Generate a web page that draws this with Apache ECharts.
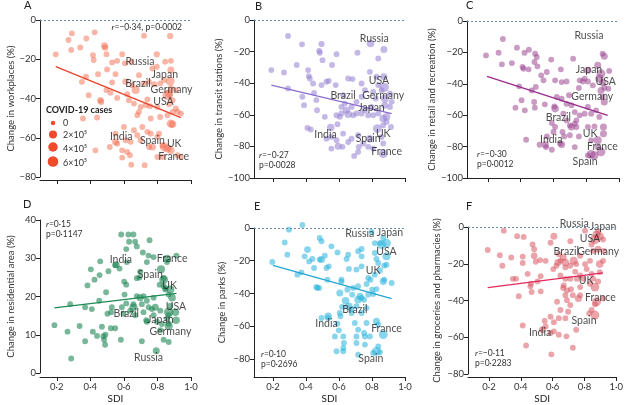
<!DOCTYPE html>
<html><head><meta charset="utf-8">
<script src="https://cdn.jsdelivr.net/npm/echarts@6/dist/echarts.min.js"></script>
<style>html,body{margin:0;padding:0;background:#fff}#c{width:626px;height:405px}</style>
</head><body><div id="c"></div>
<script>
const sdiTicks = [0.2, 0.4, 0.6, 0.8, 1.0];
const legendCases = [0, 2, 4, 6]; // ×10^5
const legendLabels = ['0', '2×10⁵', '4×10⁵', '6×10⁵'];

// [SDI, change %, COVID-19 cases ×10^5 (optional)]
const workplaces = [
[0.194,-17.5],[0.27,-10.2],[0.29,-6.8],[0.286,-15.3],[0.34,-14],[0.376,-9.4],[0.426,-6.3],[0.416,-17.9],[0.42,-20.4],[0.484,-13.1,0.8],[0.488,-14.1,0.5],[0.496,-17.4],[0.53,-21.6],[0.56,-20.8],[0.59,-17.4],[0.606,-22.1],[0.644,-21.3],[0.72,-8],[0.876,-8.2,0.5],[0.796,-17.5,0.5],[0.846,-21.3],[0.88,-20.8],[0.796,-23.8],[0.77,-24.7],[0.88,-25.5,1],[0.374,-28.9],[0.446,-27.6],[0.5,-25.2],[0.55,-27.6],[0.35,-31.5],[0.53,-31.8],[0.61,-31.5,0.6],[0.65,-33.2],[0.67,-35.7,2],[0.69,-28.1],[0.72,-32.3],[0.75,-31.5],[0.78,-32.7],[0.816,-32.3],[0.84,-30.6],[0.876,-31.1,3],[0.88,-34.6],[0.91,-35.7],[0.496,-35.7],[0.52,-37.1],[0.39,-38.3],[0.46,-40.9,0.6],[0.464,-41.7,0.6],[0.56,-39.7],[0.62,-37.8],[0.63,-40.9],[0.66,-42.6],[0.70,-44.3],[0.74,-40.5],[0.73,-43.4],[0.756,-43.9],[0.80,-44.3],[0.86,-38.3,5],[0.87,-37.4,2],[0.89,-40.9],[0.87,-42.9],[0.91,-45.1],[0.92,-46.8],[0.89,-46.8],[0.94,-47.7],[0.356,-50.2],[0.44,-49.7],[0.69,-46.8],[0.68,-48.5],[0.76,-50.2],[0.816,-49.4],[0.86,-48.5],[0.88,-52.8,2.5],[0.89,-53.1,1.5],[0.60,-54.5],[0.66,-56.2],[0.71,-54.5],[0.74,-57],[0.76,-57.9],[0.68,-58.7],[0.81,-57.9],[0.55,-57.9],[0.55,-62.1,1],[0.56,-63],[0.61,-61.3],[0.64,-62.1],[0.70,-61.3],[0.75,-64.7],[0.77,-64.7,1],[0.80,-59.6],[0.83,-63.8],[0.84,-64.7,3],[0.86,-65.5,2],[0.88,-66.4,1.5],[0.43,-66.4],[0.516,-64.7],[0.59,-66.4],[0.62,-67.2],[0.636,-68.9],[0.59,-70.1],[0.644,-73.7],[0.724,-74],[0.80,-69.8],[0.83,-69.8],[0.92,-68.9],[0.94,-69.8]
];
const transit = [
[0.291,-10.1],[0.376,-15.4],[0.494,-15.2,0.5],[0.484,-20.7],[0.48,-19.5],[0.50,-25.4],[0.585,-21.6],[0.712,-20.7],[0.791,-14.8,1.5],[0.872,-18.6,1],[0.838,-24.3],[0.19,-31.7],[0.267,-33.2],[0.344,-28.5],[0.413,-31.7],[0.417,-35.5],[0.423,-37],[0.291,-43.3],[0.378,-48.6],[0.388,-53.9],[0.449,-46.1],[0.463,-50.7],[0.467,-57.1],[0.494,-41.2],[0.524,-39.1],[0.538,-38.5],[0.558,-28.5],[0.514,-61.3],[0.58,-41.2],[0.625,-47.6],[0.656,-37],[0.682,-37.4],[0.635,-52.9],[0.615,-55],[0.645,-57.1,1],[0.676,-55],[0.706,-51.8],[0.737,-48.6],[0.757,-44.4],[0.737,-40.2],[0.787,-32.8],[0.827,-35.9],[0.872,-35.9,1],[0.838,-41.2],[0.874,-42.7,4],[0.858,-44.4],[0.807,-45.5],[0.822,-49.7],[0.878,-49.7,2],[0.909,-46.5],[0.919,-51.8],[0.909,-55],[0.878,-53.9,1],[0.797,-55],[0.757,-57.1],[0.737,-59.2],[0.706,-59.2],[0.686,-60.3],[0.656,-59.6,1.5],[0.615,-59.2],[0.585,-60.3],[0.591,-66],[0.605,-61.3],[0.777,-60.3],[0.807,-60.3],[0.838,-59.2],[0.868,-62.4,1.5],[0.888,-61.3,1.5],[0.868,-66.6],[0.888,-64.5],[0.915,-67.7],[0.409,-68.3],[0.429,-69.3],[0.55,-68.1,1.5],[0.554,-74],[0.585,-76.1],[0.595,-79.9,1],[0.621,-80.3],[0.554,-81.4],[0.524,-75.1],[0.625,-71.9],[0.676,-75.1],[0.656,-77.2],[0.716,-72.9],[0.747,-78.2],[0.72,-80.3],[0.716,-83.5],[0.692,-86],[0.787,-75.1,1.5],[0.832,-68.7,3],[0.858,-74],[0.868,-78.2],[0.868,-84.6,3],[0.807,-81.4],[0.777,-80.3],[0.443,-40.2]
];
const retail = [
[0.188,-21.9],[0.265,-20.2],[0.291,-11.5],[0.285,-27.6],[0.346,-26.8],[0.377,-17],[0.423,-20.2],[0.45,-18.3],[0.488,-20.8],[0.498,-22.9],[0.484,-26.1],[0.502,-28.9],[0.417,-30.4],[0.448,-30.8],[0.411,-29.3],[0.525,-34.6],[0.559,-32.5],[0.586,-24.6],[0.539,-37.8],[0.492,-42],[0.467,-44.2],[0.39,-41.6],[0.405,-50.5],[0.368,-55.2],[0.425,-56.9],[0.482,-51.6],[0.486,-55.2],[0.547,-53.1],[0.61,-37.8],[0.645,-30.8],[0.65,-38.9],[0.68,-38.5],[0.72,-24],[0.76,-37.8],[0.78,-38.5],[0.79,-36.7],[0.81,-38.5],[0.84,-41],[0.81,-31.4,1],[0.87,-28.2,1],[0.89,-33.5,3],[0.88,-36.7,2],[0.90,-20.8],[0.91,-22.5,1],[0.94,-31.8],[0.90,-39.1,1],[0.91,-42.5],[0.935,-43.1],[0.89,-44.2,1],[0.90,-48.4],[0.91,-51.6,1],[0.755,-42.7],[0.695,-47.3],[0.65,-49.5],[0.62,-48.4],[0.605,-54.4],[0.61,-55.8,1.5],[0.68,-52.7],[0.71,-53.7],[0.73,-58],[0.76,-60.1],[0.79,-59],[0.81,-54.8],[0.83,-59],[0.86,-56.9],[0.88,-61.1],[0.66,-59],[0.68,-63.3],[0.70,-66.5],[0.71,-67.5,1],[0.73,-65.4],[0.74,-63.3],[0.59,-65],[0.61,-67.5],[0.60,-70.7],[0.56,-73.5],[0.655,-70.7],[0.665,-73.5],[0.70,-72.8],[0.74,-67.5],[0.81,-67.5],[0.85,-67.1],[0.905,-67.5,1],[0.905,-71.8,1],[0.433,-75.6],[0.515,-78.8],[0.55,-78.8,1],[0.555,-80.3],[0.59,-82],[0.64,-78.1],[0.65,-78.6,1],[0.73,-80.3],[0.755,-73.5],[0.83,-76],[0.87,-76,2],[0.87,-80.3],[0.89,-83.4,3],[0.83,-84.9,3],[0.85,-85.6,2],[0.81,-85.6]
];
const residential = [
[0.186,12.5],[0.28,18],[0.264,10.8],[0.286,3.8],[0.336,12.3],[0.369,8.3],[0.369,17.2],[0.383,22.9],[0.403,27.1],[0.409,16.7],[0.415,10.8],[0.44,9.7],[0.425,24.4],[0.455,25.6],[0.459,29.2],[0.469,12.1],[0.453,18.9],[0.494,21.1],[0.502,15.5],[0.49,10],[0.478,9.6],[0.488,7.4],[0.482,8.7],[0.528,17.2],[0.524,15.9],[0.522,11.7],[0.548,11.7],[0.508,26.6],[0.548,28.2],[0.554,28.3,1],[0.574,27.3],[0.584,36.2],[0.582,8.7],[0.614,32.4],[0.627,36.2],[0.631,34.3],[0.657,36.2],[0.667,34.3],[0.677,33.1],[0.618,29],[0.614,23.1],[0.602,23.9],[0.604,20.5],[0.588,17.2],[0.614,18.2],[0.598,15.5],[0.638,16.3],[0.657,17.2,2],[0.657,18],[0.667,15.1],[0.677,20.1],[0.677,24.8],[0.693,25],[0.697,26.5],[0.707,18],[0.717,20.1],[0.697,19.7,1],[0.713,31.5],[0.737,29],[0.747,30.7],[0.753,34.7],[0.777,30.3],[0.777,19.7],[0.737,18.9],[0.747,17.2],[0.733,13.8],[0.737,13.4],[0.707,8.3],[0.717,15.9],[0.767,16.7],[0.787,17.2,1],[0.777,15.1],[0.797,13.4],[0.793,5.8,1],[0.817,16.3],[0.813,23.1],[0.821,27.1,2],[0.837,24.8],[0.837,22.7],[0.847,22.2],[0.837,24.4,3],[0.857,29],[0.857,29.9,1.5],[0.913,30.7],[0.847,21.8],[0.867,20.5],[0.877,21.8,2],[0.887,19.7,1.5],[0.877,17.6],[0.867,15.9,4],[0.867,15.1],[0.907,15.9,1.5],[0.911,13.8,1.5],[0.857,14.2],[0.867,12.9],[0.867,12.3,2],[0.837,8.7],[0.867,8.1],[0.817,11.2],[0.827,12.8]
];
const parks = [
[0.196,-20.8],[0.271,-8.8],[0.297,-1],[0.287,-16.3],[0.348,-28.5],[0.372,-27.1],[0.378,1.8],[0.392,-17.3],[0.409,-13.2,0.8],[0.419,-20.4],[0.439,-18.9],[0.449,-24.4],[0.483,-6.1],[0.494,-8.1],[0.483,-19.3],[0.494,-19.3,1],[0.514,-16.9],[0.524,-24.4],[0.538,-23.4],[0.53,-31.6],[0.463,-36],[0.469,-36.6],[0.48,-36.6],[0.554,-11.2],[0.591,-14.9],[0.656,-16.3],[0.646,-18.9],[0.716,-14.2],[0.737,-12.8],[0.737,-17.3],[0.737,-23.4],[0.706,-25.4],[0.66,-25],[0.615,-31.6],[0.615,-32.6],[0.651,-37.7],[0.686,-36.6],[0.68,-40.7],[0.716,-35.6],[0.605,-39.7,1],[0.64,-44.4,1.5],[0.609,-53.9],[0.605,-51.9],[0.619,-48.2],[0.66,-47.8,1.5],[0.676,-51.9],[0.676,-49.5],[0.727,-41.7,1],[0.737,-42.7],[0.752,-43.8],[0.716,-43.8,1.5],[0.706,-47.8],[0.777,-40.7],[0.767,-34.2],[0.777,-30.5],[0.791,-31.6],[0.801,-37.7],[0.807,-40.3],[0.827,-37.3],[0.868,-32.6,1],[0.874,-31.6],[0.817,-28.5],[0.848,-25.9],[0.874,-23],[0.888,-22.4],[0.827,-18.9],[0.838,-21.4],[0.817,-15.3],[0.817,-9.2],[0.797,-2.4],[0.848,-9.2],[0.858,-10.2,3],[0.888,-9.2,3],[0.868,-6.1],[0.888,-17.3,2],[0.919,-33.6],[0.737,-51.9],[0.767,-48.9],[0.494,-55],[0.534,-53.9,1.5],[0.534,-55],[0.591,-58.4],[0.599,-62.5],[0.575,-66.2],[0.585,-75.3],[0.626,-66.2],[0.63,-70.2],[0.626,-73.3],[0.626,-75.3],[0.696,-58],[0.716,-62.1],[0.706,-66.2],[0.706,-70.2],[0.752,-64.1],[0.757,-66.2],[0.787,-66.2],[0.767,-58],[0.827,-57,1],[0.838,-59],[0.868,-65.1,3],[0.757,-71.2],[0.838,-72.3],[0.848,-75.9],[0.716,-77.4],[0.827,-75.3,3],[0.807,-76.3]
];
const groceries = [
[0.192,-12.5],[0.268,-15.4],[0.293,-2],[0.284,-21.1],[0.34,-16.6],[0.35,-28.2],[0.37,-28.2],[0.387,-37.7],[0.377,-5],[0.412,-16.1],[0.412,-19.6],[0.418,-5.4],[0.443,-25.5],[0.464,-30.9],[0.46,-32.3],[0.474,-9.5],[0.484,-12.1],[0.484,-15.7,0.8],[0.494,-18.9],[0.521,-18],[0.525,-26.8],[0.505,-29.6],[0.468,-35.4],[0.525,-35],[0.556,-18.4],[0.587,-8.6],[0.608,-5,1],[0.604,-22.9],[0.624,-21.1],[0.633,-19.3,1],[0.649,-18.4],[0.666,-16.6,1],[0.68,-19.3,1.5],[0.639,-14.8],[0.649,-26.4],[0.68,-22],[0.711,-7.7],[0.711,-21.1],[0.732,-18.4,2],[0.748,-20.2],[0.742,-24.3],[0.752,-28.2],[0.711,-28.2],[0.68,-28.2],[0.67,-31.8],[0.666,-33.2],[0.69,-34.5],[0.715,-33.9],[0.727,-37.1],[0.762,-38.9,1],[0.68,-37.1],[0.69,-39.8],[0.711,-42.5],[0.649,-45.2],[0.697,-46.1],[0.628,-40.7],[0.68,-49.6],[0.639,-49.6],[0.608,-51.8],[0.587,-48.8],[0.55,-51.1],[0.556,-54.1],[0.536,-55.9,1],[0.587,-57.7],[0.608,-56.8],[0.639,-58.6],[0.687,-59.5],[0.748,-55.9],[0.727,-65.7],[0.592,-69.3],[0.433,-64.5],[0.412,-53.6],[0.773,-37.1],[0.773,-32.7],[0.793,-28.2],[0.773,-26.4],[0.814,-22.9],[0.804,-20.2],[0.835,-18.4],[0.845,-25.5],[0.855,-28.2],[0.866,-32.7,3],[0.835,-30.9],[0.886,-29.6],[0.896,-24.6],[0.896,-20.2,1.5],[0.917,-18.4],[0.921,-13],[0.886,-12.1,1],[0.855,-13],[0.845,-9.5],[0.866,-6.8,4],[0.896,-5,2],[0.876,-4.1,2],[0.886,-2.3],[0.917,-6.8],[0.804,-2],[0.773,-15.7],[0.876,-40.7,3],[0.866,-42.1],[0.917,-38.9],[0.866,-47.9,3],[0.83,-47],[0.845,-45.2]
];

// country labels: [SDI, change %, name]
const labelsA = [[0.696,-21.3,'Russia'],[0.844,-27.6,'Japan'],[0.684,-32.3,'Brazil'],[0.884,-35.7,'Germany'],[0.836,-41.7,'USA'],[0.584,-59.6,'India'],[0.77,-61.6,'Spain'],[0.9,-63,'UK'],[0.896,-69.8,'France']];
const labelsB = [[0.814,-12,'Russia'],[0.842,-38.5,'USA'],[0.625,-47.6,'Brazil'],[0.868,-47.6,'Germany'],[0.797,-55.4,'Japan'],[0.518,-72.5,'India'],[0.868,-71.9,'UK'],[0.777,-75.1,'Spain'],[0.889,-83.5,'France']];
const labelsC = [[0.817,-9.6,'Russia'],[0.817,-31,'Japan'],[0.919,-38.9,'USA'],[0.837,-48.4,'Germany'],[0.63,-61.6,'Brazil'],[0.823,-71.8,'UK'],[0.586,-75.6,'India'],[0.898,-80.3,'France'],[0.793,-89.4,'Spain']];
const labelsD = [[0.582,29.6,'India'],[0.887,30,'France'],[0.757,25.8,'Spain'],[0.873,22.9,'UK'],[0.91,17.3,'USA'],[0.614,15.5,'Brazil'],[0.817,14,'Japan'],[0.877,10.7,'Germany'],[0.747,4.1,'Russia']];
const labelsE = [[0.726,-3.7,'Russia'],[0.909,-3.1,'Japan'],[0.888,-14.7,'USA'],[0.807,-25.9,'UK'],[0.696,-49.9,'Brazil'],[0.524,-58.6,'India'],[0.888,-61.7,'France'],[0.793,-80,'Spain']];
const labelsF = [[0.736,1.6,'Russia'],[0.917,0,'Japan'],[0.834,-6.4,'USA'],[0.686,-13.6,'Brazil'],[0.886,-13.4,'Germany'],[0.81,-29.1,'UK'],[0.9,-38.6,'France'],[0.797,-50.9,'Spain'],[0.521,-57.7,'India']];

// regression line endpoints
const fitA = [[0.194,-23.8],[0.94,-49.7]];
const fitB = [[0.19,-41.2],[0.919,-59.2]];
const fitC = [[0.194,-35.2],[0.931,-60.1]];
const fitD = [[0.186,17],[0.913,20.8]];
const fitE = [[0.2,-22.8],[0.919,-43.2]];
const fitF = [[0.192,-33],[0.917,-25]];

const statsA = '{i|r}=−0·34, p=0·0002';
const statsB = '{i|r}=−0·27\np=0·0028';
const statsC = '{i|r}=−0·30\np=0·0012';
const statsD = '{i|r}=0·15\np=0·1147';
const statsE = '{i|r}=0·10\np=0·2696';
const statsF = '{i|r}=−0·11\np=0·2283';

const FONT = 'Lato';
const sizeOf = c => 4.5 + 2.5 * Math.sqrt(c == null ? 0.3 : c);

const panels = [
 {L:'A', data:workplaces, labels:labelsA, fit:fitA, name:'Change in workplaces (%)', ymin:-80, ymax:0, yticks:[0,-20,-40,-60,-80], grid:{left:40,top:20,width:151,height:157}, xmin:0.1, off:3, gap:23, dot:'rgba(242,100,68,0.6)', line:'#e8432b', zero:true, bottom:false},
 {L:'B', data:transit, labels:labelsB, fit:fitB, name:'Change in transit stations (%)', ymin:-100, ymax:0, yticks:[0,-20,-40,-60,-80,-100], grid:{left:254,top:20,width:151,height:158}, xmin:0.085, off:0, gap:28, dot:'rgba(150,130,210,0.7)', line:'#8a6dcf', zero:true, bottom:false},
 {L:'C', data:retail, labels:labelsC, fit:fitC, name:'Change in retail and recreation (%)', ymin:-100, ymax:0, yticks:[0,-20,-40,-60,-80,-100], grid:{left:467,top:21,width:152,height:157}, xmin:0.072, off:0, gap:28, dot:'rgba(155,70,145,0.68)', line:'#992a8d', zero:true, bottom:false},
 {L:'D', data:residential, labels:labelsD, fit:fitD, name:'Change in residential area (%)', ymin:0, ymax:40, yticks:[0,10,20,30,40], grid:{left:40,top:220,width:151,height:158}, xmin:0.1, off:4, gap:24, dot:'rgba(30,135,85,0.75)', line:'#1e8a55', zero:false, bottom:true},
 {L:'E', data:parks, labels:labelsE, fit:fitE, name:'Change in parks (%)', ymin:-91, ymax:0, yticks:[0,-20,-40,-60,-80], grid:{left:254,top:228,width:151,height:150}, xmin:0.085, off:0, gap:27, dot:'rgba(45,180,222,0.7)', line:'#23a7d6', zero:true, bottom:true},
 {L:'F', data:groceries, labels:labelsF, fit:fitF, name:'Change in groceries and pharmacies (%)', ymin:-80, ymax:0, yticks:[0,-20,-40,-60,-80], grid:{left:468,top:227,width:150,height:150}, xmin:0.068, off:3, gap:26, dot:'rgba(215,80,92,0.65)', line:'#e2285b', zero:true, bottom:true}
];
const letterPos = [[24,0],[255,1],[466,0],[23,199],[254,201],[466,201]];
const statPos = [{right:444,top:22},{left:259,top:150},{left:477,top:149},{left:46,top:219},{left:261,top:349},{left:475,top:348}];

const AX = '#222';
const fmtY = v => (v < 0 ? '−' + Math.abs(v) : String(v));
const fmtX = v => v.toFixed(1).replace('.', '·');

const option = {
 animation: false,
 backgroundColor: '#fff',
 textStyle: {fontFamily: FONT},
 grid: panels.map(p => Object.assign({containLabel:false}, p.grid)),
 xAxis: panels.map((p, i) => ({
  type:'value', gridIndex:i, min:p.xmin, max:1.0, offset:p.off, position:'bottom',
  name: p.bottom ? 'SDI' : '', nameLocation:'middle', nameGap:17,
  nameTextStyle:{fontSize:10, color:AX, fontFamily:FONT},
  axisLine:{show:true, onZero:false, lineStyle:{color:AX, width:1}},
  axisTick:{show:true, customValues:sdiTicks, length:4, lineStyle:{color:AX}},
  axisLabel:{show:p.bottom, customValues:sdiTicks, formatter:fmtX, fontSize:9.5, color:'#333', margin:5, fontFamily:FONT},
  splitLine:{show:false}
 })),
 yAxis: panels.map((p, i) => ({
  type:'value', gridIndex:i, min:p.ymin, max:p.ymax, position:'left',
  name:p.name, nameLocation:'middle', nameRotate:90, nameGap:p.gap,
  nameTextStyle:{fontSize:9.5, color:'#333', fontFamily:FONT},
  axisLine:{show:true, onZero:false, lineStyle:{color:AX, width:1}},
  axisTick:{show:true, customValues:p.yticks, length:4, lineStyle:{color:AX}},
  axisLabel:{customValues:p.yticks, formatter:fmtY, fontSize:9.5, color:'#333', margin:4, fontFamily:FONT},
  splitLine:{show:false}
 })),
 title: panels.map((p, i) => ({
  text:p.L, left:letterPos[i][0], top:letterPos[i][1], padding:0,
  textStyle:{fontSize:11, fontWeight:'normal', color:'#222', fontFamily:FONT}
 })).concat([statsA, statsB, statsC, statsD, statsE, statsF].map((s, i) => Object.assign({
  text:s, padding:0,
  textStyle:{fontSize:8.5, fontWeight:'normal', color:'#333', lineHeight:10, fontFamily:FONT,
   rich:{i:{fontStyle:'italic', fontSize:8.5, color:'#333', fontFamily:FONT, lineHeight:10}}}
 }, statPos[i]))),
 series: []
};

panels.forEach((p, i) => {
 const sc = {
  type:'scatter', xAxisIndex:i, yAxisIndex:i, clip:false, z:2,
  data:p.data,
  symbolSize: v => sizeOf(v[2]),
  itemStyle:{color:p.dot}
 };
 if (p.zero) {
  sc.markLine = {silent:true, symbol:'none', label:{show:false},
   lineStyle:{type:[2,2], color:'#6a8cab', width:1}, data:[{yAxis:0}]};
 }
 option.series.push(sc);
 option.series.push({type:'line', xAxisIndex:i, yAxisIndex:i, data:p.fit, symbol:'none', z:3,
  lineStyle:{color:p.line, width:1.3}});
 option.series.push({type:'scatter', xAxisIndex:i, yAxisIndex:i, clip:false, z:4, silent:true,
  data:p.labels, symbolSize:1, itemStyle:{color:'rgba(0,0,0,0)'},
  label:{show:true, position:'inside', formatter:d => d.value[2], fontSize:10.5, color:'#222', fontFamily:FONT}});
});

// size legend in panel A
const legX = 53, legY = [123, 134.5, 147, 161.5], legTY = [123, 135, 149, 163];
option.graphic = [{type:'text', left:46, top:106, style:{text:'COVID-19 cases', font:'bold 9px ' + FONT, fill:'#222'}}]
 .concat(legendCases.map((c, k) => ({type:'circle', shape:{cx:legX, cy:legY[k], r:sizeOf(c)/2}, style:{fill:'#ef4a2b'}})))
 .concat(legendLabels.map((t, k) => ({type:'text', x:63, y:legTY[k], style:{text:t, font:'9px ' + FONT, fill:'#333', textVerticalAlign:'middle'}})));

const chart = echarts.init(document.getElementById('c'), null, {renderer:'canvas'});
chart.setOption(option);
</script></body></html>
